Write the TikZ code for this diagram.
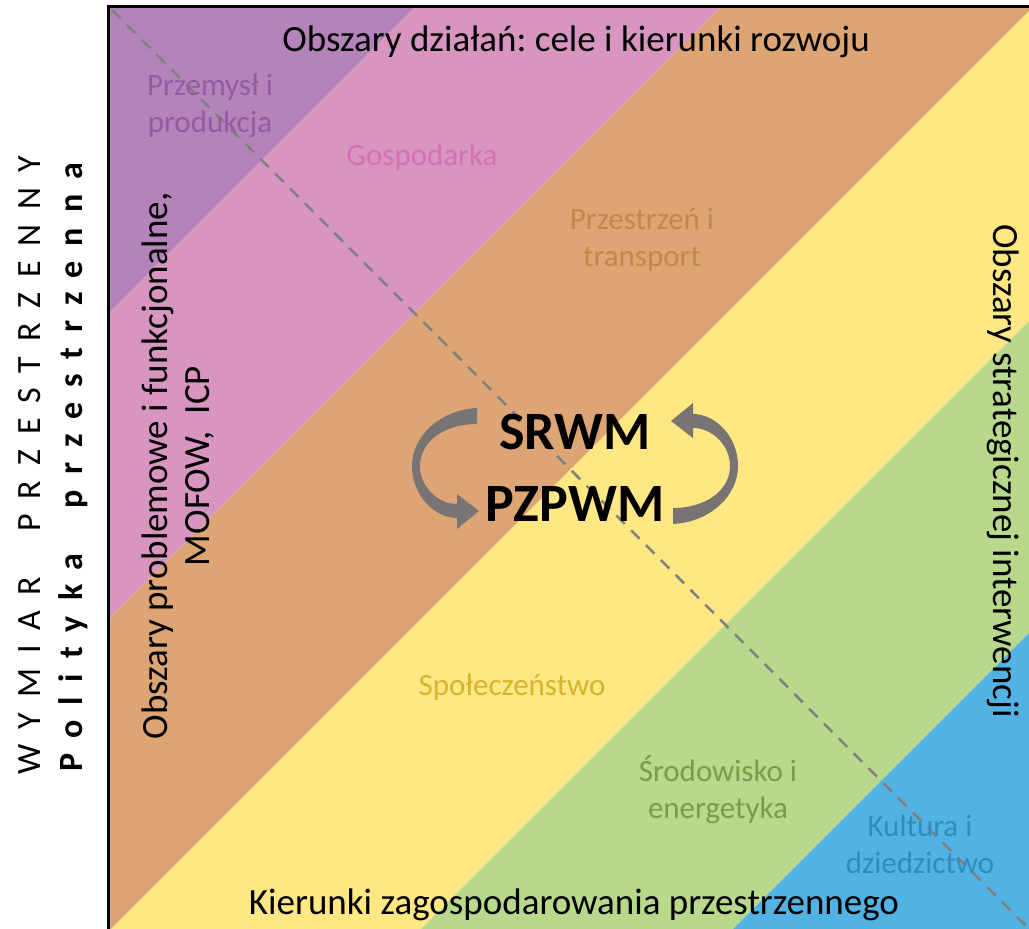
\documentclass[tikz,border=0pt]{standalone}
\usepackage{fontspec}
\setmainfont{Carlito}
\newfontfamily\spacedfont[LetterSpace=44]{Carlito}
\usetikzlibrary{calc}
\frenchspacing

\definecolor{bandpurple}{RGB}{179,131,185}
\definecolor{bandpink}{RGB}{215,149,192}
\definecolor{bandorange}{RGB}{221,165,116}
\definecolor{bandyellow}{RGB}{255,231,131}
\definecolor{bandgreen}{RGB}{184,217,139}
\definecolor{bandblue}{RGB}{83,178,228}
\definecolor{txtpurple}{RGB}{150,90,165}
\definecolor{txtpink}{RGB}{214,112,180}
\definecolor{txtorange}{RGB}{196,134,74}
\definecolor{txtyellow}{RGB}{212,181,44}
\definecolor{txtgreen}{RGB}{124,154,72}
\definecolor{txtblue}{RGB}{44,142,192}
\definecolor{arrowgray}{RGB}{120,116,116}

\begin{document}
\begin{tikzpicture}[x=1pt,y=1pt,
  bandlabel/.style={align=center, font=\fontsize{31}{37}\selectfont},
  headtext/.style={font=\fontsize{37}{42}\selectfont}]
  \useasboundingbox (0,0) rectangle (1029,-929);
  \coordinate (nw) at (108.5,-6.5);
  \coordinate (se) at (1029,-929);

  % diagonal bands
  \begin{scope}
    \clip (110,-8) rectangle (se);
    \foreach \ca/\cb/\col in {-300/422/bandpurple, 422/728/bandpink,
        728/1040/bandorange, 1040/1350/bandyellow,
        1350/1662/bandgreen, 1662/2300/bandblue}
      \fill[\col] (\ca+100,100) -- (\cb+100,100) -- (\cb-1300,-1300) -- (\ca-1300,-1300) -- cycle;
  \end{scope}
  \draw[line width=3pt] (108.5,-929) -- (nw) -- (1029,-6.5);
  \draw[gray, line width=2.5pt, dash pattern=on 12pt off 9pt] (112,-10) -- (se);

  % band labels
  \node[bandlabel, text=txtpurple] (industry) at (210,-106) {Przemysł i\\produkcja};
  \node[bandlabel, text=txtpink] (economy) at (422,-157) {Gospodarka};
  \node[bandlabel, text=txtorange] (space) at (642,-240) {Przestrzeń i\\transport};
  \node[bandlabel, text=txtyellow] (society) at (512,-687) {Społeczeństwo};
  \node[bandlabel, text=txtgreen] (environment) at (718,-790) {Środowisko i\\energetyka};
  \node[bandlabel, text=txtblue] (culture) at (920,-844) {Kultura i\\dziedzictwo};

  % frame texts
  \node[headtext] (goals) at (576,-42) {Obszary działań: cele i kierunki rozwoju};
  \node[headtext] (directions) at (574,-905) {Kierunki zagospodarowania przestrzennego};
  \node[headtext, rotate=90, align=center] (problems) at (178,-466) {Obszary problemowe i funkcjonalne,\\MOFOW,\ \ ICP};
  \node[headtext, rotate=-90] (strategic) at (1003,-471) {Obszary strategicznej interwencji};
  \node[rotate=90, font=\spacedfont\fontsize{34}{40}\selectfont] (dimension) at (30,-465) {WYMIAR\ \ PRZESTRZENNY};
  \node[rotate=90, font=\spacedfont\bfseries\fontsize{34}{40}\selectfont] (policy) at (73,-467) {Polityka\ \ przestrzenna};

  % documents in the middle
  \node[align=center, font=\bfseries\fontsize{54}{72}\selectfont] (plans) at (575,-468) {SRWM\\PZPWM};
  \foreach \ang in {0,180}
    \fill[arrowgray, shift={(575,-466)}, rotate=\ang]
      (-98,58) .. controls (-135,56) and (-163,30) .. (-163,0)
      .. controls (-163,-30) and (-140,-52) .. (-118,-52)
      -- (-118,-63) -- (-96,-45) -- (-118,-28) -- (-118,-38)
      .. controls (-138,-38) and (-155,-20) .. (-155,0)
      .. controls (-155,25) and (-130,42) .. (-98,42) -- cycle;
\end{tikzpicture}
\end{document}
